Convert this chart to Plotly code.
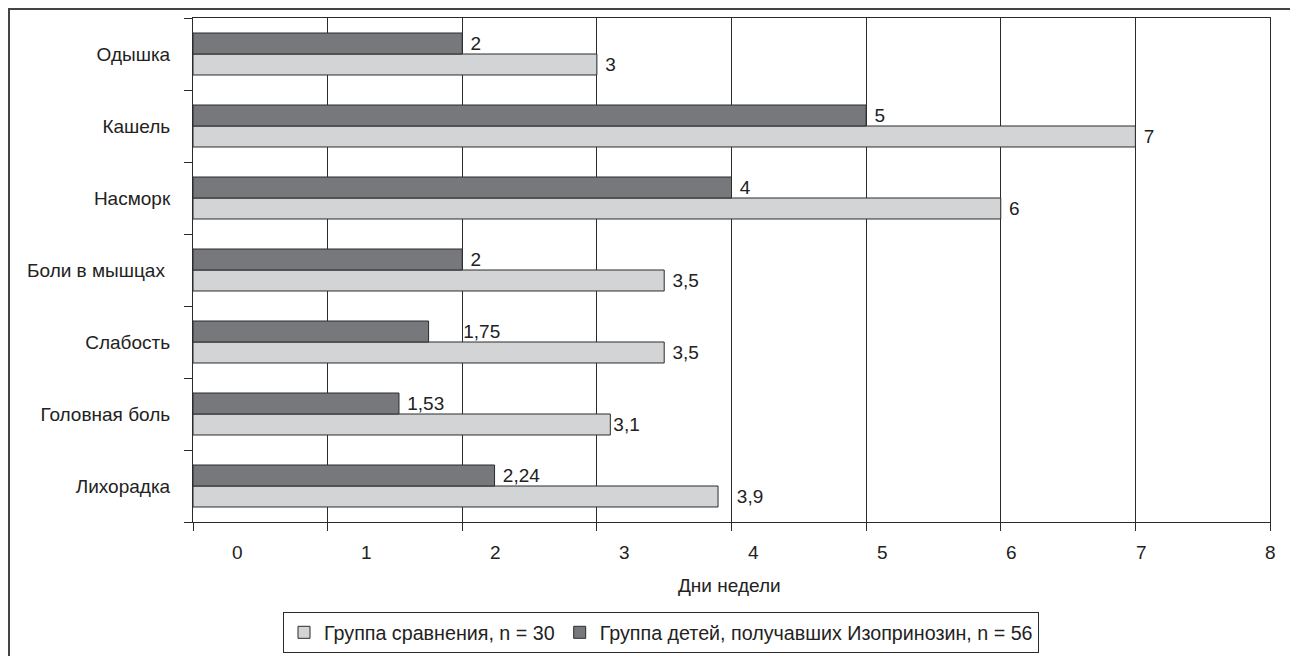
import plotly.graph_objects as go

# Symptoms, listed from the bottom of the chart to the top
symptoms = ["Лихорадка", "Головная боль", "Слабость", "Боли в мышцах ",
            "Насморк", "Кашель", "Одышка"]
# Duration of symptoms, days
comparison_days = [3.9, 3.1, 3.5, 3.5, 6, 7, 3]
isoprinosine_days = [2.24, 1.53, 1.75, 2, 4, 5, 2]
x_ticks = [0, 1, 2, 3, 4, 5, 6, 7, 8]

FONT = "Liberation Sans, Arial, sans-serif"
INK = "#222222"
FS = 19

# plot area in pixels
W, H = 1290, 656
L, R, T, B = 193, 20, 18, 134
PW, PH = W - L - R, H - T - B

# extra spacing (in non-breaking spaces) so some value labels clear the grid lines
LABEL_PAD = {("cmp", "Лихорадка"): 3, ("cmp", "Головная боль"): 0,
             ("iso", "Слабость"): 6}


def px_x(px):
    return (px - L) / PW


def px_y(py):
    return (H - B - py) / PH


def labels(series, values):
    out = []
    for cat, v in zip(symptoms, values):
        pad = LABEL_PAD.get((series, cat), 1)
        out.append("\u00a0" * pad + f"{v:g}".replace(".", ","))
    return out


fig = go.Figure()
fig.add_trace(go.Bar(
    y=symptoms, x=comparison_days, orientation="h",
    name="Группа сравнения, n = 30",
    marker=dict(color="#d3d4d6", line=dict(color="#2b2b2b", width=1)),
    text=labels("cmp", comparison_days), textposition="outside",
    textfont=dict(size=FS, color=INK, family=FONT), cliponaxis=False,
))
fig.add_trace(go.Bar(
    y=symptoms, x=isoprinosine_days, orientation="h",
    name="Группа детей, получавших Изопринозин, n = 56",
    marker=dict(color="#77787c", line=dict(color="#2b2b2b", width=1)),
    text=labels("iso", isoprinosine_days), textposition="outside",
    textfont=dict(size=FS, color=INK, family=FONT), cliponaxis=False,
))

annotations = []
# x tick labels are spread evenly from a third of a unit past zero up to 8
first_label = 0.334
step = (x_ticks[-1] - first_label) / (len(x_ticks) - 1)
for k, v in enumerate(x_ticks):
    annotations.append(dict(
        x=first_label + k * step, y=px_y(552), xref="x", yref="paper",
        text=str(v), showarrow=False, xanchor="center", yanchor="middle",
        font=dict(size=FS, color=INK, family=FONT)))
annotations.append(dict(
    x=px_x(729), y=px_y(585), xref="paper", yref="paper", text="Дни недели",
    showarrow=False, xanchor="center", yanchor="middle",
    font=dict(size=FS, color=INK, family=FONT)))

fig.update_layout(
    width=W, height=H,
    margin=dict(l=L, r=R, t=T, b=B, pad=0, autoexpand=False),
    paper_bgcolor="white", plot_bgcolor="white",
    barmode="group", bargap=0.417, bargroupgap=0,
    font=dict(family=FONT, size=FS, color=INK),
    xaxis=dict(
        range=[0, 8], tickvals=x_ticks, showticklabels=False, automargin=False,
        showgrid=True, gridcolor="#2b2b2b", gridwidth=1,
        showline=True, linecolor="#2b2b2b", linewidth=1, mirror=True,
        ticks="outside", ticklen=8, tickcolor="#2b2b2b", zeroline=False,
    ),
    yaxis=dict(
        type="category", categoryorder="array", categoryarray=symptoms,
        automargin=False,
        showline=True, linecolor="#2b2b2b", linewidth=1, mirror=True,
        ticks="outside", ticklen=8, tickcolor="#2b2b2b", tickson="boundaries",
        showgrid=False, ticklabelstandoff=18,
        tickfont=dict(size=FS, color=INK, family=FONT),
    ),
    legend=dict(
        orientation="h", x=px_x(283), y=px_y(612), xanchor="left", yanchor="top",
        bordercolor="#2b2b2b", borderwidth=1, bgcolor="white",
        font=dict(size=19.7, color=INK, family=FONT), traceorder="normal",
    ),
    annotations=annotations,
    shapes=[dict(
        type="rect", xref="paper", yref="paper",
        x0=px_x(9), x1=px_x(1310), y0=px_y(676), y1=px_y(9),
        line=dict(color="#444444", width=2), fillcolor="rgba(0,0,0,0)",
        layer="below")],
)

fig.write_html("out.html")
